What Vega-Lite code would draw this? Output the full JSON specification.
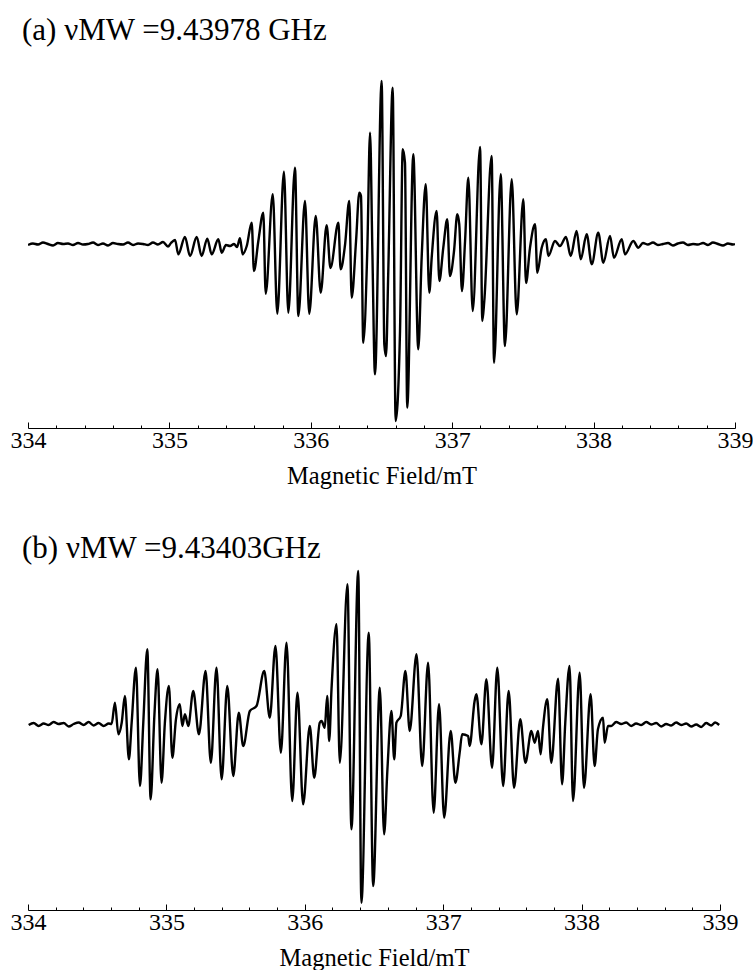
{
  "$schema": "https://vega.github.io/schema/vega-lite/v6.json",
  "background": "white",
  "padding": {"left": 10, "top": 15, "right": 0, "bottom": 0},
  "spacing": 45,
  "config": {
    "view": {"stroke": null},
    "axis": {
      "labelFont": "Liberation Serif",
      "titleFont": "Liberation Serif",
      "labelColor": "black",
      "titleColor": "black",
      "domainColor": "black",
      "tickColor": "black"
    },
    "title": {"font": "Liberation Serif", "fontWeight": "normal", "color": "black"}
  },
  "datasets": {
    "a": [
      {"B": 334.000, "I": -1}, {"B": 334.035, "I": 0.5}, {"B": 334.071, "I": -0.5}, {"B": 334.106, "I": 1.5},
      {"B": 334.141, "I": 0}, {"B": 334.177, "I": -1.5}, {"B": 334.212, "I": 1}, {"B": 334.248, "I": 0},
      {"B": 334.283, "I": 0.5}, {"B": 334.318, "I": -1}, {"B": 334.354, "I": 1}, {"B": 334.389, "I": -0.5},
      {"B": 334.424, "I": 0}, {"B": 334.460, "I": 1.5}, {"B": 334.495, "I": -1}, {"B": 334.530, "I": 0.5},
      {"B": 334.566, "I": -1.5}, {"B": 334.601, "I": 1}, {"B": 334.636, "I": 0}, {"B": 334.672, "I": -0.5},
      {"B": 334.707, "I": 1.5}, {"B": 334.743, "I": -1}, {"B": 334.778, "I": 0.5}, {"B": 334.813, "I": 0},
      {"B": 334.849, "I": -1}, {"B": 334.884, "I": 1.5}, {"B": 334.919, "I": -0.5}, {"B": 334.955, "I": 2},
      {"B": 334.990, "I": -2.5}, {"B": 335.011, "I": 1},
      {"B": 335.040, "I": 4}, {"B": 335.063, "I": -10.3}, {"B": 335.110, "I": 7}, {"B": 335.146, "I": -12},
      {"B": 335.193, "I": 7}, {"B": 335.228, "I": -12}, {"B": 335.268, "I": 5.3}, {"B": 335.299, "I": -10.3},
      {"B": 335.346, "I": 4.7}, {"B": 335.370, "I": -8.7}, {"B": 335.400, "I": -1}, {"B": 335.429, "I": -2},
      {"B": 335.457, "I": 0}, {"B": 335.478, "I": -3}, {"B": 335.499, "I": 5.7}, {"B": 335.518, "I": -10.3},
      {"B": 335.547, "I": -2}, {"B": 335.582, "I": 21.3}, {"B": 335.598, "I": -27}, {"B": 335.629, "I": 3},
      {"B": 335.664, "I": 31.3}, {"B": 335.681, "I": -49.7}, {"B": 335.731, "I": 49.7}, {"B": 335.763, "I": -69.7},
      {"B": 335.810, "I": 72.3}, {"B": 335.841, "I": -68.7}, {"B": 335.888, "I": 76.3}, {"B": 335.912, "I": -72},
      {"B": 335.959, "I": 43}, {"B": 335.989, "I": -69.7}, {"B": 336.035, "I": 28}, {"B": 336.070, "I": -48.7},
      {"B": 336.112, "I": 18.7}, {"B": 336.139, "I": -24}, {"B": 336.195, "I": 21.3}, {"B": 336.211, "I": -25.3},
      {"B": 336.242, "I": -1}, {"B": 336.272, "I": 43}, {"B": 336.289, "I": -53.7}, {"B": 336.320, "I": 3},
      {"B": 336.343, "I": 51.3}, {"B": 336.355, "I": 48}, {"B": 336.371, "I": -98.7}, {"B": 336.400, "I": -3.7},
      {"B": 336.419, "I": 111.3}, {"B": 336.435, "I": -3.7}, {"B": 336.454, "I": -130.3}, {"B": 336.501, "I": 163},
      {"B": 336.520, "I": -100.3}, {"B": 336.532, "I": -112}, {"B": 336.548, "I": -27}, {"B": 336.579, "I": 156.3},
      {"B": 336.600, "I": -177}, {"B": 336.631, "I": -87}, {"B": 336.650, "I": 94.7}, {"B": 336.666, "I": 81.3},
      {"B": 336.682, "I": -163.7}, {"B": 336.725, "I": 89.7}, {"B": 336.760, "I": -105.3}, {"B": 336.784, "I": -13.7},
      {"B": 336.813, "I": 59.7}, {"B": 336.838, "I": -48.7}, {"B": 336.855, "I": -13.7}, {"B": 336.890, "I": 33},
      {"B": 336.909, "I": -37}, {"B": 336.937, "I": -3.7}, {"B": 336.965, "I": 24.7}, {"B": 336.984, "I": -32},
      {"B": 337.013, "I": -7}, {"B": 337.036, "I": 29.7}, {"B": 337.050, "I": 19.7}, {"B": 337.069, "I": -47},
      {"B": 337.091, "I": 3}, {"B": 337.114, "I": 66.3}, {"B": 337.145, "I": -67}, {"B": 337.197, "I": 97},
      {"B": 337.213, "I": -77}, {"B": 337.227, "I": -57}, {"B": 337.279, "I": 88}, {"B": 337.296, "I": -118.7},
      {"B": 337.343, "I": 69.7}, {"B": 337.373, "I": -102}, {"B": 337.421, "I": 64.7}, {"B": 337.456, "I": -70.3},
      {"B": 337.503, "I": 44.7}, {"B": 337.522, "I": -39}, {"B": 337.550, "I": -4}, {"B": 337.586, "I": 19.7},
      {"B": 337.602, "I": -28.7}, {"B": 337.633, "I": -3.7}, {"B": 337.663, "I": 4.7}, {"B": 337.680, "I": -12},
      {"B": 337.727, "I": 3}, {"B": 337.762, "I": -2}, {"B": 337.805, "I": 7}, {"B": 337.838, "I": -12},
      {"B": 337.880, "I": 13}, {"B": 337.909, "I": -15.3}, {"B": 337.951, "I": 9.7}, {"B": 337.987, "I": -20.3},
      {"B": 338.033, "I": 11.3}, {"B": 338.069, "I": -18.7}, {"B": 338.116, "I": 8}, {"B": 338.144, "I": -13.7},
      {"B": 338.199, "I": 4.7}, {"B": 338.222, "I": -10.3}, {"B": 338.281, "I": 3}, {"B": 338.316, "I": -3.7},
      {"B": 338.349, "I": 1}, {"B": 338.384, "I": -0.5}, {"B": 338.420, "I": 1.5}, {"B": 338.455, "I": -1},
      {"B": 338.491, "I": 0}, {"B": 338.526, "I": 1}, {"B": 338.561, "I": -1.5}, {"B": 338.597, "I": 0.5},
      {"B": 338.632, "I": 1.5}, {"B": 338.667, "I": -1}, {"B": 338.703, "I": 0}, {"B": 338.738, "I": -0.5},
      {"B": 338.774, "I": 1}, {"B": 338.809, "I": -1}, {"B": 338.844, "I": 1.5}, {"B": 338.880, "I": 0},
      {"B": 338.915, "I": -1.5}, {"B": 338.950, "I": 0.5}, {"B": 338.986, "I": -0.5}, {"B": 339.000, "I": 0}
    ],
    "b": [
      {"B": 334.005, "I": -1}, {"B": 334.041, "I": 1}, {"B": 334.077, "I": -2}, {"B": 334.113, "I": 0.5},
      {"B": 334.149, "I": -1}, {"B": 334.185, "I": 2}, {"B": 334.221, "I": 0}, {"B": 334.258, "I": 1},
      {"B": 334.294, "I": -2.5}, {"B": 334.330, "I": 0}, {"B": 334.366, "I": 1.5}, {"B": 334.402, "I": -1},
      {"B": 334.438, "I": 2}, {"B": 334.474, "I": -1.5}, {"B": 334.510, "I": 1}, {"B": 334.547, "I": -2},
      {"B": 334.583, "I": 0.5}, {"B": 334.604, "I": 0},
      {"B": 334.628, "I": 21.3}, {"B": 334.653, "I": -10.3}, {"B": 334.677, "I": 1.3}, {"B": 334.700, "I": 28},
      {"B": 334.729, "I": -35.3}, {"B": 334.749, "I": 1.3}, {"B": 334.780, "I": 56.3}, {"B": 334.809, "I": -62},
      {"B": 334.833, "I": 1.3}, {"B": 334.862, "I": 74.7}, {"B": 334.886, "I": -75.3}, {"B": 334.913, "I": 8},
      {"B": 334.936, "I": 54.7}, {"B": 334.965, "I": -58.7}, {"B": 334.989, "I": 1.3}, {"B": 335.018, "I": 38},
      {"B": 335.043, "I": -33.7}, {"B": 335.069, "I": 4.7}, {"B": 335.097, "I": 19.7}, {"B": 335.115, "I": -2},
      {"B": 335.134, "I": 9.7}, {"B": 335.158, "I": -2}, {"B": 335.194, "I": 33}, {"B": 335.235, "I": -10.3},
      {"B": 335.283, "I": 53}, {"B": 335.321, "I": -38.7}, {"B": 335.362, "I": 56.3}, {"B": 335.399, "I": -55.3},
      {"B": 335.440, "I": 38}, {"B": 335.483, "I": -52}, {"B": 335.523, "I": 11.3}, {"B": 335.555, "I": -22},
      {"B": 335.603, "I": 13}, {"B": 335.651, "I": 18}, {"B": 335.707, "I": 53}, {"B": 335.747, "I": 6.3},
      {"B": 335.788, "I": 78}, {"B": 335.827, "I": -28.7}, {"B": 335.868, "I": 81.3}, {"B": 335.909, "I": -77},
      {"B": 335.947, "I": 31.3}, {"B": 335.988, "I": -80.3}, {"B": 336.036, "I": -2}, {"B": 336.068, "I": -53.7},
      {"B": 336.108, "I": 1.3}, {"B": 336.121, "I": 3}, {"B": 336.144, "I": -3.7}, {"B": 336.162, "I": 28},
      {"B": 336.176, "I": -17}, {"B": 336.193, "I": 34.7}, {"B": 336.229, "I": 99.7}, {"B": 336.253, "I": -38.7},
      {"B": 336.308, "I": 139.7}, {"B": 336.337, "I": -105.3}, {"B": 336.386, "I": 153}, {"B": 336.409, "I": -178.7},
      {"B": 336.462, "I": 91.3}, {"B": 336.494, "I": -162}, {"B": 336.542, "I": 36.3}, {"B": 336.573, "I": -110.3},
      {"B": 336.597, "I": -45.3}, {"B": 336.626, "I": 13}, {"B": 336.646, "I": -35.3}, {"B": 336.662, "I": 1.3},
      {"B": 336.693, "I": 8}, {"B": 336.727, "I": 53}, {"B": 336.758, "I": -7}, {"B": 336.807, "I": 69.7},
      {"B": 336.848, "I": -42}, {"B": 336.891, "I": 61.3}, {"B": 336.931, "I": -88.7}, {"B": 336.970, "I": 19.7},
      {"B": 337.007, "I": -93.7}, {"B": 337.054, "I": -7}, {"B": 337.088, "I": -58.7}, {"B": 337.119, "I": -28.7},
      {"B": 337.137, "I": -10.3}, {"B": 337.180, "I": -12}, {"B": 337.191, "I": -22}, {"B": 337.227, "I": 23},
      {"B": 337.240, "I": 29.7}, {"B": 337.276, "I": -20.3}, {"B": 337.312, "I": 44.7}, {"B": 337.353, "I": -43.7},
      {"B": 337.391, "I": 56.3}, {"B": 337.433, "I": -62}, {"B": 337.473, "I": 33}, {"B": 337.512, "I": -63.7},
      {"B": 337.557, "I": 4.7}, {"B": 337.594, "I": -38.7}, {"B": 337.637, "I": -7}, {"B": 337.661, "I": -18.7},
      {"B": 337.685, "I": -7}, {"B": 337.704, "I": -30.3}, {"B": 337.721, "I": -3.7}, {"B": 337.752, "I": 24.7},
      {"B": 337.781, "I": -38.7}, {"B": 337.830, "I": 45.3}, {"B": 337.859, "I": -60.3}, {"B": 337.882, "I": 1.3},
      {"B": 337.913, "I": 58}, {"B": 337.938, "I": -77}, {"B": 337.986, "I": 51.3}, {"B": 338.017, "I": -63.7},
      {"B": 338.065, "I": 29.7}, {"B": 338.094, "I": -42}, {"B": 338.118, "I": -5.3}, {"B": 338.155, "I": 6.3},
      {"B": 338.166, "I": -18.7}, {"B": 338.191, "I": -2},
      {"B": 338.214, "I": -2}, {"B": 338.250, "I": 2}, {"B": 338.286, "I": 0}, {"B": 338.322, "I": 1.5},
      {"B": 338.358, "I": -2}, {"B": 338.394, "I": 0.5}, {"B": 338.431, "I": -1}, {"B": 338.467, "I": 2},
      {"B": 338.503, "I": -0.5}, {"B": 338.539, "I": 1}, {"B": 338.575, "I": -2.5}, {"B": 338.611, "I": 0},
      {"B": 338.647, "I": -1.5}, {"B": 338.683, "I": 1.5}, {"B": 338.720, "I": -1}, {"B": 338.756, "I": 0.5},
      {"B": 338.792, "I": -2.5}, {"B": 338.828, "I": -0.5}, {"B": 338.864, "I": -3}, {"B": 338.900, "I": 1},
      {"B": 338.936, "I": -1.5}, {"B": 338.965, "I": 1.5}, {"B": 338.994, "I": -1}
    ]
  },
  "vconcat": [
    {
      "width": 707,
      "height": 357,
      "title": {"text": "(a) νMW =9.43978 GHz", "anchor": "start", "frame": "group", "fontSize": 31, "offset": 24, "dx": -6},
      "data": {"name": "a"},
      "mark": {"type": "line", "color": "black", "strokeWidth": 2.4, "interpolate": "monotone", "clip": true},
      "encoding": {
        "x": {
          "field": "B", "type": "quantitative",
          "scale": {"domain": [334, 339], "nice": false, "zero": false},
          "axis": {
            "title": "Magnetic Field/mT",
            "titleFontSize": 24.5, "titleFontWeight": "normal", "titlePadding": 9,
            "values": [334, 334.2, 334.4, 334.6, 334.8, 335, 335.2, 335.4, 335.6, 335.8, 336, 336.2, 336.4, 336.6, 336.8, 337, 337.2, 337.4, 337.6, 337.8, 338, 338.2, 338.4, 338.6, 338.8, 339],
            "labelExpr": "datum.value % 1 === 0 ? format(datum.value, 'd') : ''",
            "labelFontSize": 24, "labelOverlap": false, "labelPadding": 6, "labelFlush": false,
            "tickSize": {"condition": {"test": "datum.value % 1 === 0", "value": -6}, "value": -3},
            "tickWidth": 1, "domainWidth": 1.2, "grid": false
          }
        },
        "y": {
          "field": "I", "type": "quantitative",
          "scale": {"domain": [-184, 173], "nice": false, "zero": false},
          "axis": null
        }
      }
    },
    {
      "width": 692,
      "height": 344,
      "title": {"text": "(b) νMW =9.43403GHz", "anchor": "start", "frame": "group", "fontSize": 31, "offset": 1, "dx": -6},
      "data": {"name": "b"},
      "mark": {"type": "line", "color": "black", "strokeWidth": 2.4, "interpolate": "monotone", "clip": true},
      "encoding": {
        "x": {
          "field": "B", "type": "quantitative",
          "scale": {"domain": [334, 339], "nice": false, "zero": false},
          "axis": {
            "title": "Magnetic Field/mT",
            "titleFontSize": 24.5, "titleFontWeight": "normal", "titlePadding": 9,
            "values": [334, 334.2, 334.4, 334.6, 334.8, 335, 335.2, 335.4, 335.6, 335.8, 336, 336.2, 336.4, 336.6, 336.8, 337, 337.2, 337.4, 337.6, 337.8, 338, 338.2, 338.4, 338.6, 338.8, 339],
            "labelExpr": "datum.value % 1 === 0 ? format(datum.value, 'd') : ''",
            "labelFontSize": 24, "labelOverlap": false, "labelPadding": 6, "labelFlush": false,
            "tickSize": {"condition": {"test": "datum.value % 1 === 0", "value": -6}, "value": -3},
            "tickWidth": 1, "domainWidth": 1.2, "grid": false
          }
        },
        "y": {
          "field": "I", "type": "quantitative",
          "scale": {"domain": [-186, 158], "nice": false, "zero": false},
          "axis": null
        }
      }
    }
  ]
}
